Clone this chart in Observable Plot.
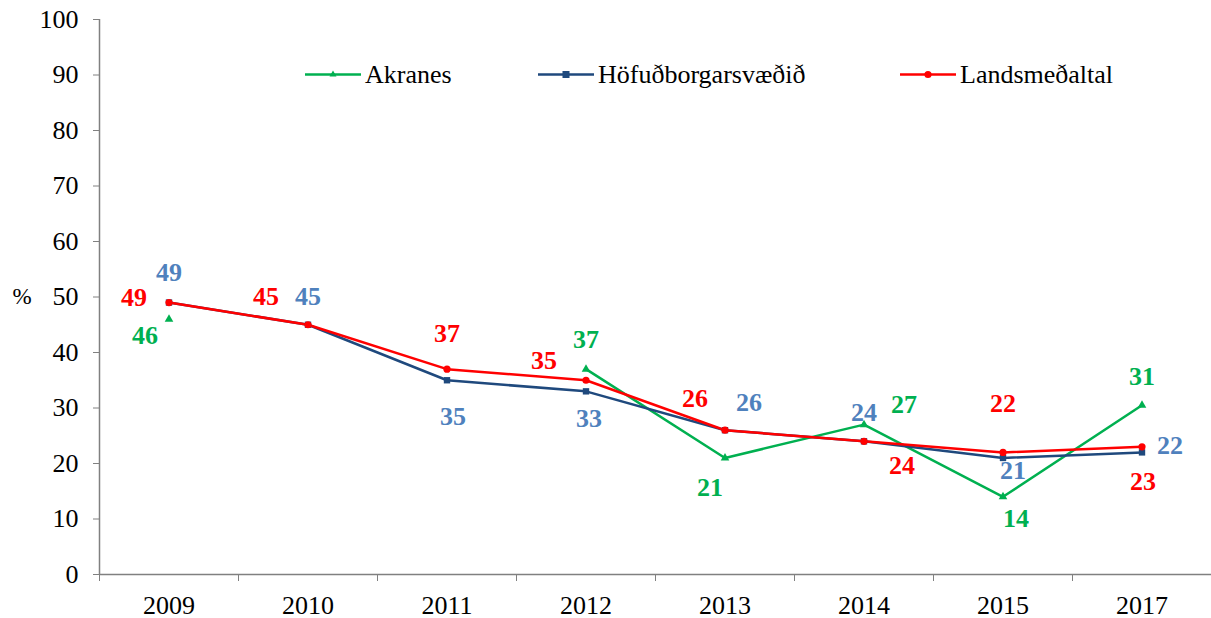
<!DOCTYPE html>
<html><head><meta charset="utf-8">
<script src="https://cdn.jsdelivr.net/npm/d3@7"></script>
<script src="https://cdn.jsdelivr.net/npm/@observablehq/plot@0.6"></script>
<style>
body{margin:0;background:#fff;}
#wrap{position:relative;width:1211px;height:618px;font-family:Liberation Serif, Times New Roman, serif;}
#wrap svg text{font-family:Liberation Serif, Times New Roman, serif;}
.leg{position:absolute;top:60px;height:30px;display:flex;align-items:center;font-size:26px;color:#000;white-space:nowrap;font-family:Liberation Serif, serif;}
.leg svg{margin-right:4px;}
</style></head>
<body><div id="wrap"></div>
<script>
const years = ["2009","2010","2011","2012","2013","2014","2015","2017"];
const akranes = [46, null, null, 37, 21, 27, 14, 30.5];
const hofud = [49, 45, 35, 33, 26, 24, 21, 22];
const lands = [49, 45, 37, 35, 26, 24, 22, 23];
const seriesNames = ["Akranes", "Höfuðborgarsvæðið", "Landsmeðaltal"];

// label offsets (layout only), per series per year: [dx, dy]
const offA = [[-24,16],null,null,[0,-29],[-15,30],[40,-20],[13,22],[0,-29]];
const offH = [[0,-30],[0,-28],[6,36],[3,27],[24,-28],[0,-29],[10,13],[28,-7]];
const offL = [[-35,-5],[-42,-28],[0,-35],[-42,-20],[-30,-32],[38,24],[0,-49],[1,35]];

const FONT = "Liberation Serif, Times New Roman, serif";
const lineColors = ["#00B050", "#1F497D", "#FF0000"];
const labelColors = ["#00B050", "#4F81BD", "#FF0000"];
const symbols = ["triangle", "square", "circle"];
const vals = [akranes, hofud, lands];
const offs = [offA, offH, offL];

const marks = [];
marks.push(Plot.ruleY([0], {stroke: "#808080", strokeWidth: 1.5}));
marks.push(Plot.ruleX([-0.5], {stroke: "#808080", strokeWidth: 1.5}));
marks.push(Plot.axisY({ticks: d3.range(0, 101, 10), tickSize: 6, tickPadding: 15, stroke: "#808080", fill: "#000", label: null, fontSize: 26, fontFamily: FONT}));
marks.push(Plot.axisX({ticks: d3.range(8), tickFormat: i => years[i], tickSize: 0, tickPadding: 21, fill: "#000", label: null, fontSize: 26, fontFamily: FONT}));
marks.push(Plot.axisX({ticks: d3.range(-0.5, 8, 1), tickFormat: () => "", tickSize: 7, stroke: "#808080", label: null}));
marks.push(Plot.text(["%"], {frameAnchor: "left", y: () => 50, x: () => -0.5, dx: -87, fontSize: 23, fill: "#000", fontFamily: FONT}));

vals.forEach((v, s) => {
  const data = v.map((y, i) => ({i, y}));
  marks.push(Plot.line(data, {x: "i", y: "y", stroke: lineColors[s], strokeWidth: 2.5}));
});
vals.forEach((v, s) => {
  const data = v.map((y, i) => ({i, y})).filter(d => d.y != null);
  marks.push(Plot.dot(data, {x: "i", y: "y", symbol: symbols[s], fill: lineColors[s], stroke: "none", r: s === 0 ? 3.2 : 3.6}));
});
vals.forEach((v, s) => {
  v.forEach((y, i) => {
    if (y == null) return;
    const [dx, dy] = offs[s][i];
    marks.push(Plot.text([{i, y}], {x: "i", y: "y", text: d => String(Math.round(d.y)), dx, dy, fill: labelColors[s], fontWeight: "bold", fontSize: 26, fontFamily: FONT}));
  });
});

const chart = Plot.plot({
  width: 1211, height: 618,
  marginLeft: 99, marginRight: 0, marginTop: 19, marginBottom: 44,
  style: "font-family: Liberation Serif, Times New Roman, serif; background: #fff; overflow: visible;",
  x: {type: "linear", domain: [-0.5, 7.5]},
  y: {domain: [0, 100]},
  marks
});
const wrap = document.getElementById("wrap");
wrap.appendChild(chart);

// legend
const legX = [305, 538, 900];
seriesNames.forEach((name, s) => {
  const d = document.createElement("div");
  d.className = "leg";
  d.style.left = legX[s] + "px";
  let sym = "";
  if (s === 0) sym = '<polygon points="28,10.5 31.5,16.5 24.5,16.5" fill="' + lineColors[s] + '"/>';
  if (s === 1) sym = '<rect x="24.5" y="11" width="7" height="7" fill="' + lineColors[s] + '"/>';
  if (s === 2) sym = '<circle cx="28" cy="14.5" r="3.6" fill="' + lineColors[s] + '"/>';
  d.innerHTML = '<svg width="56" height="30"><line x1="0" x2="56" y1="14.5" y2="14.5" stroke="' + lineColors[s] + '" stroke-width="2.5"/>' + sym + '</svg><span>' + name + '</span>';
  wrap.appendChild(d);
});
</script></body></html>
